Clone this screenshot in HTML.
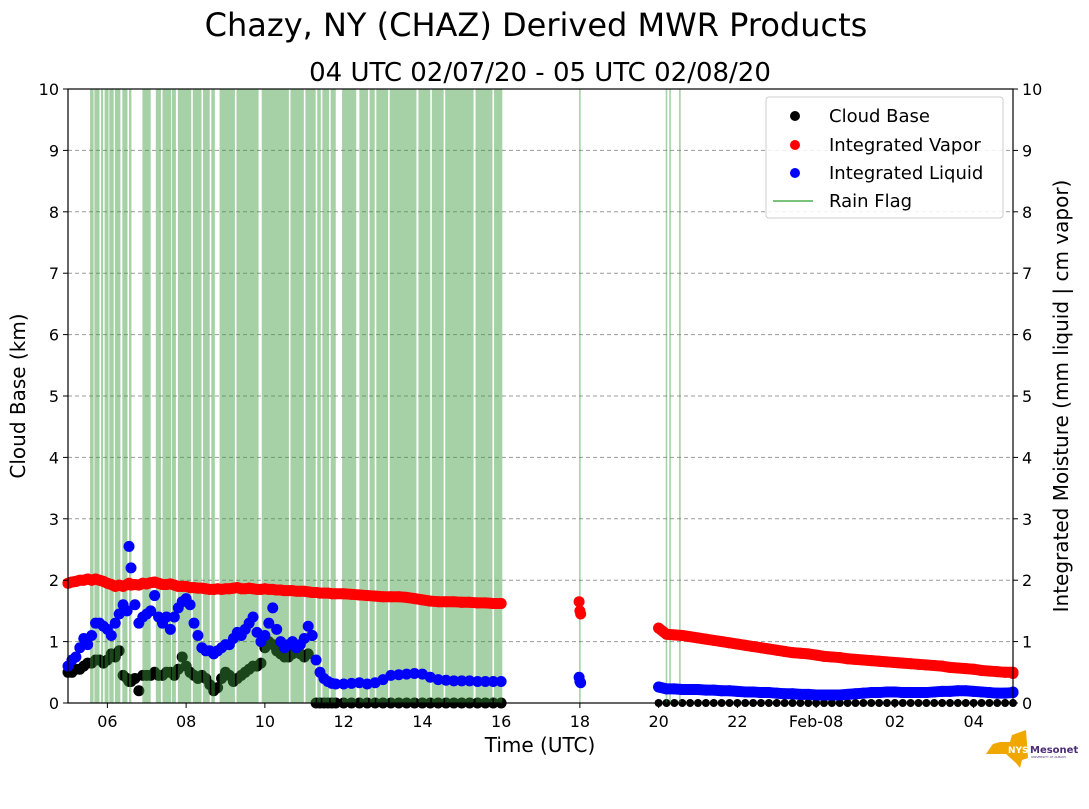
<!DOCTYPE html>
<html><head><meta charset="utf-8"><style>
body{margin:0;background:#fff;font-family:"Liberation Sans","DejaVu Sans",sans-serif}
svg text{font-family:"DejaVu Sans","Liberation Sans",sans-serif}
</style></head><body>
<svg id="c" width="1089" height="804" xmlns="http://www.w3.org/2000/svg">
<text x="536" y="36" font-size="32" text-anchor="middle">Chazy, NY (CHAZ) Derived MWR Products</text>
<text x="540" y="81" font-size="26" text-anchor="middle">04 UTC 02/07/20 - 05 UTC 02/08/20</text>
<g id="grid"></g><g id="cb"></g><g id="rain"></g><g id="vap"></g><g id="liq"></g><g id="axes"></g>
<g>
<rect x="766" y="97" width="237" height="121" rx="3" fill="#fff" fill-opacity="0.85" stroke="#ccc"/>
<g><circle cx="795" cy="116" r="5" fill="#000"/><text x="829" y="122" font-size="18">Cloud Base</text></g>
<g><circle cx="795" cy="145" r="5" fill="red"/><text x="829" y="151" font-size="18">Integrated Vapor</text></g>
<g><circle cx="795" cy="173" r="5" fill="blue"/><text x="829" y="179" font-size="18">Integrated Liquid</text></g>
<g><line x1="773" x2="813" y1="201" y2="201" stroke="#7bc27b" stroke-width="2"/><text x="829" y="207" font-size="18">Rain Flag</text></g>
</g>
<g>
<path d="M993 744 L1000 742 L1010 742 L1012 735 L1026 730 L1028 758 L1022 760 L1020 768 L1016 763 L1006 754 L986 754 L990 748 Z" fill="#f0a800"/>
<text x="1008" y="753" font-size="9" font-weight="bold" fill="#fff">NYS</text>
<text x="1030" y="753" font-size="10" font-weight="bold" fill="#4b2c74">Mesonet</text>
<text x="1031" y="758" font-size="3" fill="#4b2c74">UNIVERSITY AT ALBANY</text>
</g>
</svg>
<script>
const tH=[5,5.1,5.2,5.3,5.4,5.5,5.6,5.7,5.8,5.9,6,6.1,6.2,6.3,6.4,6.5,6.55,6.6,6.7,6.8,6.9,7,7.1,7.2,7.3,7.4,7.5,7.6,7.7,7.8,7.9,8,8.1,8.2,8.3,8.4,8.5,8.6,8.7,8.8,8.9,9,9.1,9.2,9.3,9.4,9.5,9.6,9.7,9.8,9.9,10,10.1,10.2,10.3,10.4,10.5,10.6,10.7,10.8,10.9,11,11.1,11.2,11.3,11.4,11.5,11.6,11.7,11.8,12,12.2,12.4,12.6,12.8,13,13.2,13.4,13.6,13.8,14,14.2,14.4,14.6,14.8,15,15.2,15.4,15.6,15.8,16];
const liquid=[0.6,0.7,0.75,0.9,1.05,0.95,1.1,1.3,1.3,1.25,1.2,1.1,1.3,1.45,1.6,1.5,2.55,2.2,1.6,1.3,1.4,1.45,1.5,1.75,1.4,1.3,1.4,1.2,1.4,1.55,1.65,1.7,1.6,1.3,1.1,0.9,0.85,0.85,0.8,0.85,0.9,0.95,0.95,1.05,1.15,1.1,1.2,1.3,1.4,1.15,1.0,1.1,1.3,1.55,1.2,1.0,0.9,0.95,1.0,0.9,0.95,1.05,1.25,1.1,0.7,0.5,0.4,0.35,0.32,0.31,0.31,0.32,0.33,0.31,0.33,0.38,0.45,0.46,0.47,0.48,0.47,0.42,0.38,0.37,0.36,0.36,0.36,0.35,0.35,0.35,0.35];
const vapor=[1.95,1.97,1.98,2.0,2.0,2.02,2.0,2.02,2.0,1.98,1.95,1.93,1.9,1.92,1.9,1.93,1.95,1.92,1.93,1.92,1.95,1.94,1.96,1.97,1.95,1.93,1.93,1.94,1.92,1.9,1.9,1.9,1.88,1.88,1.87,1.87,1.86,1.85,1.85,1.86,1.85,1.86,1.86,1.87,1.88,1.86,1.86,1.87,1.86,1.85,1.85,1.86,1.85,1.85,1.84,1.84,1.83,1.83,1.83,1.82,1.82,1.82,1.81,1.8,1.8,1.79,1.79,1.79,1.78,1.78,1.78,1.77,1.76,1.75,1.74,1.73,1.73,1.73,1.72,1.7,1.68,1.66,1.65,1.65,1.65,1.64,1.64,1.63,1.63,1.62,1.62];
const cloudBase=[0.5,0.5,0.55,0.55,0.6,0.65,0.65,0.7,0.7,0.65,0.7,0.8,0.75,0.85,0.45,0.4,0.35,0.35,0.4,0.2,0.45,0.45,0.45,0.5,0.45,0.45,0.5,0.5,0.45,0.55,0.75,0.6,0.5,0.45,0.4,0.45,0.4,0.3,0.2,0.25,0.4,0.5,0.45,0.35,0.4,0.45,0.5,0.55,0.6,0.6,0.65,0.9,1.0,0.95,0.85,0.8,0.75,0.75,0.8,0.85,0.8,0.75,0.8,1.1,0,0,0,0,0,0,0,0,0,0,0,0,0,0,0,0,0,0,0,0,0,0,0,0,0,0,0];
const gapH=[17.98,18.0,18.02];
const gapLiq=[0.42,0.35,0.33];
const gapVap=[1.65,1.5,1.45];
const t2H=[20,20.2,20.4,20.6,20.8,21,21.2,21.4,21.6,21.8,22,22.2,22.4,22.6,22.8,23,23.2,23.4,23.6,23.8,24,24.2,24.4,24.6,24.8,25,25.2,25.4,25.6,25.8,26,26.2,26.4,26.6,26.8,27,27.2,27.4,27.6,27.8,28,28.2,28.4,28.6,28.8,29,29.2];
const vapor2=[1.22,1.12,1.11,1.1,1.08,1.06,1.04,1.02,1.0,0.98,0.96,0.94,0.92,0.9,0.88,0.86,0.84,0.82,0.81,0.8,0.78,0.76,0.75,0.74,0.72,0.71,0.7,0.69,0.68,0.67,0.66,0.65,0.64,0.63,0.62,0.61,0.6,0.58,0.57,0.56,0.55,0.53,0.52,0.51,0.5,0.5,0.48];
const liquid2=[0.26,0.23,0.23,0.22,0.22,0.22,0.21,0.21,0.2,0.2,0.19,0.18,0.18,0.17,0.17,0.16,0.15,0.15,0.14,0.14,0.13,0.13,0.13,0.13,0.14,0.15,0.16,0.17,0.17,0.18,0.18,0.17,0.17,0.17,0.17,0.18,0.19,0.19,0.2,0.2,0.19,0.18,0.17,0.16,0.16,0.17,0.18];
const rainStart=[5.56,5.67,5.84,5.93,6.05,6.19,6.38,6.55,6.89,7.23,7.40,7.64,7.79,8.17,8.43,8.64,8.85,9.28,9.92,10.65,11.03,11.33,11.46,11.67,11.96,12.40,12.66,12.83,13.17,13.90,14.24,14.58,15.35,15.82,17.98,20.18,20.27,20.52];
const rainEnd=[5.65,5.80,5.89,6.03,6.16,6.33,6.51,6.61,7.10,7.36,7.62,7.74,8.13,8.39,8.60,8.73,9.24,9.84,10.61,10.99,11.29,11.42,11.63,11.80,12.32,12.62,12.79,13.13,13.85,14.20,14.54,15.30,15.78,16.03,18.02,20.22,20.31,20.56];
const yTicks=[0,1,2,3,4,5,6,7,8,9,10];
const xTickH=[6,8,10,12,14,16,18,20,22,24,26,28];
const xTickLbl=["06","08","10","12","14","16","18","20","22","Feb-08","02","04"];

const X0=68,X1=1013,Y0=703,Y1=89,H0=5,H1=29.0;
const x=h=>X0+(h-H0)/(H1-H0)*(X1-X0);
const y=v=>Y0-v/10*(Y0-Y1);
const NS="http://www.w3.org/2000/svg";
function mk(tag,parent,attrs){const e=document.createElementNS(NS,tag);for(const k in attrs)e.setAttribute(k,attrs[k]);document.getElementById(parent).appendChild(e);return e;}
yTicks.forEach(v=>{
 if(v>0&&v<10){const g=mk('line','grid',{x1:X0,x2:X1,y1:y(v),y2:y(v),stroke:'#999','stroke-dasharray':'4,3','stroke-width':1});
 
 }
 const l=mk('text','axes',{x:X0-9,y:y(v)+6,'font-size':16,'text-anchor':'end'});l.textContent=v;
 
 
 const r=mk('text','axes',{x:X1+9,y:y(v)+6,'font-size':16});r.textContent=v;
 
 
 mk('line','axes',{x1:X0-5,x2:X0,y1:y(v),y2:y(v),stroke:'#000'});
 mk('line','axes',{x1:X1,x2:X1+5,y1:y(v),y2:y(v),stroke:'#000'});
});
xTickH.forEach((h,i)=>{
 mk('line','axes',{x1:x(h),x2:x(h),y1:Y0,y2:Y0+5,stroke:'#000'});
 const t=mk('text','axes',{x:x(h),y:Y0+24,'font-size':16,'text-anchor':'middle'});t.textContent=xTickLbl[i];
 
 
});
const fr=mk('rect','axes',{x:X0,y:Y1,width:X1-X0,height:Y0-Y1,fill:'none',stroke:'#000','stroke-width':1.2});


function lbl(txt,attrs,name){const t=mk('text','axes',attrs);t.textContent=txt;}
lbl('Time (UTC)',{x:540,y:752,'font-size':20,'text-anchor':'middle'},'x-axis-title');
lbl('Cloud Base (km)',{x:0,y:0,'font-size':20,'text-anchor':'middle',transform:'translate(25,396) rotate(-90)'},'y-axis-title-left');
lbl('Integrated Moisture (mm liquid | cm vapor)',{x:0,y:0,'font-size':20,'text-anchor':'middle',transform:'translate(1068,396) rotate(-90)'},'y-axis-title-right');

function dots(g,hs,vs,col,name,trail){
 if(trail){const p=mk('polyline',g,{points:hs.map((h,i)=>x(Math.min(h,H1))+','+y(vs[i])).join(' '),fill:'none',stroke:col,'stroke-width':11,'stroke-linecap':'round','stroke-linejoin':'round'});
 
 }
 hs.forEach((h,i)=>{if(h>H1+0.05)return;const c=mk('circle',g,{cx:x(h),cy:y(vs[i]),r:5.5,fill:col});
 
 });}
dots('cb',tH,cloudBase,'#000','cloud-base-point',false);
t2H.forEach(h=>{if(h>H1)return;const c=mk('circle','cb',{cx:x(h),cy:y(0),r:4,fill:'#000'});
 
 });
rainStart.forEach((s,i)=>{const r=mk('rect','rain',{x:x(s),y:Y1,width:Math.max(1.5,x(rainEnd[i])-x(s)),height:Y0-Y1,fill:'#3a9a3a','fill-opacity':0.45});
 
 });
dots('vap',tH,vapor,'red','vapor-point',true);
dots('vap',gapH,gapVap,'red','vapor-point',false);
dots('vap',t2H,vapor2,'red','vapor-point',true);
dots('liq',tH,liquid,'blue','liquid-point',false);
dots('liq',gapH,gapLiq,'blue','liquid-point',false);
dots('liq',t2H,liquid2,'blue','liquid-point',true);
</script>
</body></html>
